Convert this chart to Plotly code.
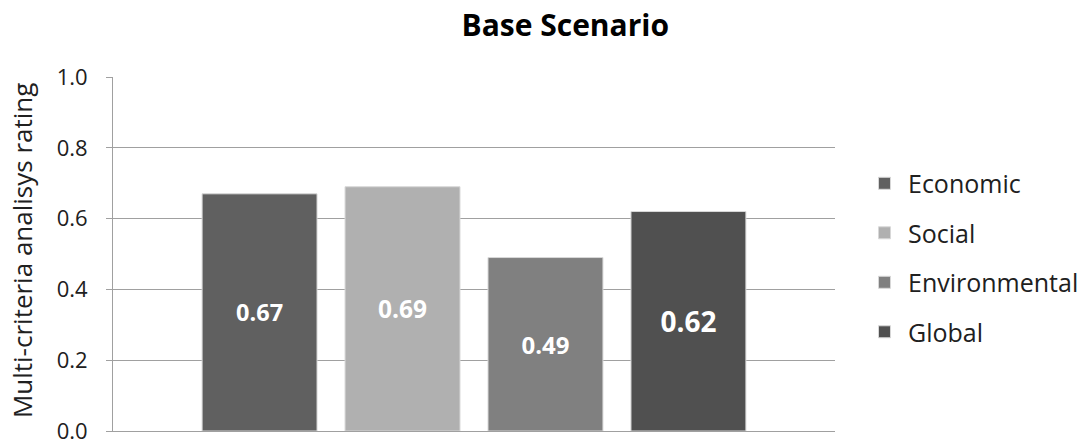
import plotly.graph_objects as go

# Multi-criteria ratings for the base scenario
criteria = ["Economic", "Social", "Environmental", "Global"]
ratings = [0.67, 0.69, 0.49, 0.62]
bar_colors = ["#606060", "#b0b0b0", "#808080", "#505050"]
label_sizes = [23.5, 24.5, 24, 28]
y_ticks = [0.0, 0.2, 0.4, 0.6, 0.8, 1.0]

FONT = "Open Sans"

fig = go.Figure()
for name, val, col, fs in zip(criteria, ratings, bar_colors, label_sizes):
    fig.add_trace(go.Bar(
        x=["Base"], y=[val], name=name, legendgroup=name,
        marker=dict(color=col, line=dict(color="#d8d8d8", width=1)),
        text=[f"{val:.2f}"], textposition="inside", insidetextanchor="middle",
        textfont=dict(family=FONT, size=fs, color="white", weight="bold"),
        hoverinfo="skip",
    ))

fig.update_layout(
    width=1085, height=439,
    margin=dict(l=113, r=250, t=77, b=8, autoexpand=False),
    paper_bgcolor="white", plot_bgcolor="white",
    barmode="group", bargap=0.208, bargroupgap=0.196,
    font=dict(family=FONT, color="#202020"),
    title=dict(text="<b>Base Scenario</b>", x=0.521, xanchor="center",
               y=0.943, yanchor="middle",
               font=dict(family=FONT, size=30, color="#000000")),
    legend=dict(x=1.036, xanchor="left", y=0.49, yanchor="middle",
                font=dict(family=FONT, size=25, color="#202020"),
                tracegroupgap=14, itemwidth=37),
    uniformtext=dict(mode=False),
    annotations=[dict(text="Multi-criteria analisys rating", textangle=-90,
                      xref="paper", yref="paper", x=(22 - 113) / 722, y=0.511,
                      xanchor="center", yanchor="middle", showarrow=False,
                      font=dict(family=FONT, size=26, color="#202020"))],
)
fig.update_xaxes(showticklabels=False, showgrid=False, ticks="",
                 showline=True, linecolor="#a0a0a0", linewidth=1,
                 automargin=False)
fig.update_yaxes(range=[0, 1.0], tickvals=y_ticks,
                 ticktext=[f"{v:.1f}" for v in y_ticks],
                 showgrid=True, gridcolor="#a0a0a0", gridwidth=1,
                 showline=True, linecolor="#a0a0a0", linewidth=1,
                 ticks="outside", ticklen=6, tickcolor="#a0a0a0",
                 ticklabelstandoff=14, ticklabeloverflow="allow",
                 tickfont=dict(family=FONT, size=22, color="#202020"),
                 zeroline=False, automargin=False)

fig.write_html("out.html")
